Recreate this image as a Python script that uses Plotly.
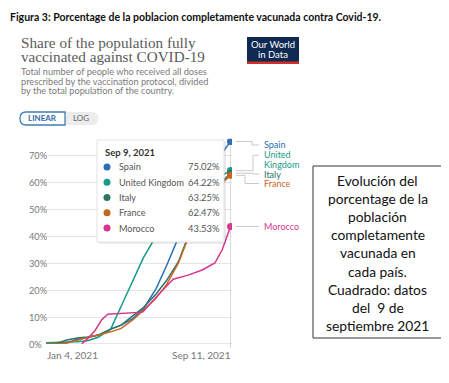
import plotly.graph_objects as go

# page body has an 8px default margin, so the figure is 8px smaller
OFF = 8
W, H = 449 - OFF, 383 - OFF

# ---------------- data ----------------
countries = ["Spain", "United Kingdom", "Italy", "France", "Morocco"]
colors = ["#2a70b3", "#17998b", "#2e7565", "#c8661f", "#d9358f"]

eu_dates = ["2021-01-04", "2021-01-18", "2021-02-01", "2021-02-15", "2021-03-01",
            "2021-03-15", "2021-04-01", "2021-04-15", "2021-05-01", "2021-05-15",
            "2021-06-01", "2021-06-15", "2021-07-01", "2021-07-15", "2021-08-01",
            "2021-08-15", "2021-09-01", "2021-09-09"]
spain = [0.0, 0.1, 0.5, 1.8, 2.4, 3.3, 5.5, 7.0, 9.5, 13.0, 20.5, 29.0, 39.5, 49.0,
         58.0, 65.0, 72.0, 75.02]
uk = [0.5, 0.7, 0.75, 0.8, 1.2, 2.5, 5.5, 14.0, 23.5, 32.0, 40.0, 46.0, 50.0, 53.5,
      57.0, 60.0, 63.0, 64.22]
italy = [0.0, 0.2, 1.5, 2.2, 2.6, 3.2, 5.5, 7.0, 10.5, 13.5, 18.5, 23.5, 30.5, 40.5,
         51.0, 56.0, 61.0, 63.25]
france = [0.0, 0.0, 0.4, 1.5, 2.4, 3.3, 4.5, 5.8, 9.0, 12.5, 17.0, 22.0, 30.0, 40.0,
          48.5, 55.0, 60.5, 62.47]
morocco_dates = ["2021-02-21", "2021-03-01", "2021-03-11", "2021-03-20", "2021-03-28",
                 "2021-04-24", "2021-05-14", "2021-06-03", "2021-06-24", "2021-07-14",
                 "2021-08-02", "2021-08-19", "2021-08-29", "2021-09-09"]
morocco = [0.0, 2.0, 5.0, 9.0, 11.0, 11.3, 11.8, 18.0, 24.0, 25.5, 27.4, 30.0, 35.0, 43.53]

series_x = [eu_dates, eu_dates, eu_dates, eu_dates, morocco_dates]
series_y = [spain, uk, italy, france, morocco]

y_ticks = [0, 10, 20, 30, 40, 50, 60, 70]
x_tick_labels = ["Jan 4, 2021", "Sep 11, 2021"]
x_range = ["2021-01-04", "2021-09-11"]
tooltip_date = "Sep 9, 2021"

end_labels = [["Spain"], ["United", "Kingdom"], ["Italy"], ["France"], ["Morocco"]]


# ---------------- helpers (window pixel -> paper) ----------------
def px(x):
    return (x - OFF) / W


def py(y):
    return 1 - (y - OFF) / H


fig = go.Figure()

for name, xs, ys, c in zip(countries, series_x, series_y, colors):
    fig.add_trace(go.Scatter(x=xs, y=ys, mode="lines", name=name,
                             line=dict(color=c, width=1.5), hoverinfo="skip"))
for name, xs, ys, c in zip(countries, series_x, series_y, colors):
    fig.add_trace(go.Scatter(x=[xs[-1]], y=[ys[-1]], mode="markers", name=name,
                             marker=dict(color=c, size=7), hoverinfo="skip"))

plot_left, plot_right, plot_bottom = 46, 232, 344
ymax = 76
plot_top = plot_bottom - ymax * 2.7

fig.update_layout(
    width=W, height=H, margin=dict(l=0, r=0, t=0, b=0),
    paper_bgcolor="white", plot_bgcolor="white", showlegend=False,
    xaxis=dict(domain=[px(plot_left), px(plot_right)], range=x_range, type="date",
               showgrid=False, showticklabels=False, zeroline=False, showline=False),
    yaxis=dict(domain=[py(plot_bottom), py(plot_top)], range=[0, ymax],
               tickvals=y_ticks, showticklabels=False, gridcolor="#e3e3e3",
               gridwidth=1, zeroline=False, showline=False),
    font=dict(family="Lato", color="#666"),
)

shapes = []
ann = []


def text(x, y, t, size, color, family="Lato", xanchor="left"):
    ann.append(dict(x=px(x), y=py(y), xref="paper", yref="paper", text=t,
                    showarrow=False, xanchor=xanchor, yanchor="middle",
                    font=dict(family=family, size=size, color=color)))


# hover vertical line
shapes.append(dict(type="line", xref="x", yref="paper", x0=eu_dates[-1], x1=eu_dates[-1],
                   y0=py(plot_bottom + 4), y1=py(plot_top), line=dict(color="#d8d8d8", width=1),
                   layer="below"))
# bottom axis line
shapes.append(dict(type="line", xref="paper", yref="y", x0=px(plot_left), x1=px(plot_right),
                   y0=0, y1=0, line=dict(color="#cfcfcf", width=1), layer="below"))

# y tick labels
for v in y_ticks:
    ann.append(dict(x=px(27), xref="paper", y=v, yref="y", text=f"{v}%", showarrow=False,
                    xanchor="left", yanchor="middle", font=dict(size=9.2, color="#777")))
# x tick labels
text(45, 355, x_tick_labels[0], 10, "#777")
text(233, 355, x_tick_labels[1], 10, "#777", xanchor="right")

# top caption
text(8, 17, "<b>Figura 3: Porcentage de la poblacion completamente vacunada contra Covid-19.</b>",
     10.5, "#111", family="Liberation Sans Narrow, Lato")

# OWID title / subtitle (one annotation per line for tight spacing)
text(19, 42.5, "Share of the population fully", 15.2, "#5b5b5b", family="Liberation Serif")
text(19, 56.5, "vaccinated against COVID-19", 15.2, "#5b5b5b", family="Liberation Serif")
for k, t in enumerate(["Total number of people who received all doses",
                       "prescribed by the vaccination protocol, divided",
                       "by the total population of the country."]):
    text(19, 72 + k * 9.0, t, 9.2, "#7a7a7a")

# OWID logo
shapes.append(dict(type="rect", xref="paper", yref="paper", x0=px(247), x1=px(299),
                   y0=py(64), y1=py(37), fillcolor="#0e2a52", line=dict(width=0)))
shapes.append(dict(type="rect", xref="paper", yref="paper", x0=px(247), x1=px(299),
                   y0=py(64), y1=py(61.5), fillcolor="#d0312b", line=dict(width=0)))
text(273, 44.5, "Our World", 9.5, "white", xanchor="center")
text(273, 54.5, "in Data", 9.5, "white", xanchor="center")

# LINEAR / LOG toggle
shapes.append(dict(type="path", xref="paper", yref="paper",
                   path=f"M {px(60)} {py(112)} L {px(92)} {py(112)} Q {px(98)} {py(112)} {px(98)} {py(118.5)} Q {px(98)} {py(125)} {px(92)} {py(125)} L {px(60)} {py(125)} Z",
                   fillcolor="#ececec", line=dict(width=0)))
shapes.append(dict(type="path", xref="paper", yref="paper",
                   path=f"M {px(26)} {py(112)} L {px(65)} {py(112)} L {px(65)} {py(125)} L {px(26)} {py(125)} Q {px(20)} {py(125)} {px(20)} {py(118.5)} Q {px(20)} {py(112)} {px(26)} {py(112)} Z",
                   fillcolor="white", line=dict(color="#3f7fb5", width=1.3)))
text(42.5, 118.5, "<b>LINEAR</b>", 8, "#2f6ea8", xanchor="center")
text(80.5, 118.5, "LOG", 8, "#666", xanchor="center")

# end labels with connectors
label_y = [145, [154.5, 164.3], 174, 183.5, 226.5]
dot_y = [plot_bottom - v[-1] * 2.7 for v in series_y]
conn_x = [252, 253, 253, 245, 245]
for i, (name, c) in enumerate(zip(countries, colors)):
    ly = label_y[i]
    if isinstance(ly, list):
        target = (ly[0] + ly[1]) / 2 - 4
        ys_lbl = ly
    else:
        target = ly
        ys_lbl = [ly]
    cx = conn_x[i]
    shapes.append(dict(type="path", xref="paper", yref="paper",
                       path=f"M {px(236)} {py(dot_y[i])} L {px(cx)} {py(dot_y[i])} L {px(cx)} {py(target)} L {px(259)} {py(target)}",
                       line=dict(color="#bbbbbb", width=0.8)))
    for t, yy in zip(end_labels[i], ys_lbl):
        text(262, yy, t, 9, c)

# tooltip
shapes.append(dict(type="rect", xref="paper", yref="paper", x0=px(99), x1=px(226),
                   y0=py(244), y1=py(142), fillcolor="rgba(0,0,0,0.08)", line=dict(width=0),
                   layer="above"))
shapes.append(dict(type="rect", xref="paper", yref="paper", x0=px(97), x1=px(224),
                   y0=py(242), y1=py(140), fillcolor="white", line=dict(color="#e2e2e2", width=1),
                   layer="above"))
text(103, 152.5, f"<b>{tooltip_date}</b>", 9.5, "#333")
row_y = [167, 182.2, 197.4, 212.8, 228]
for i, (name, c) in enumerate(zip(countries, colors)):
    ry = row_y[i]
    shapes.append(dict(type="circle", xref="paper", yref="paper", x0=px(103.5), x1=px(110.5),
                       y0=py(ry + 3.5), y1=py(ry - 3.5), fillcolor=c, line=dict(width=0),
                       layer="above"))
    text(116.5, ry, name, 9.1, "#555")
    text(222, ry, f"{series_y[i][-1]:.2f}%", 9.4, "#555", xanchor="right")

# side note box
shapes.append(dict(type="rect", xref="paper", yref="paper", x0=px(313), x1=px(442),
                   y0=py(338), y1=py(166), fillcolor="white", line=dict(color="#333", width=1)))
note_lines = ["Evolución del", "porcentage de la", "población", "completamente",
              "vacunada en", "cada país.", "Cuadrado: datos", "del  9 de", "septiembre 2021"]
for k, t in enumerate(note_lines):
    text(377.5, 180.5 + k * 18.1, t, 13.8, "#111", xanchor="center")

fig.update_layout(shapes=shapes, annotations=ann)
fig.write_html("out.html")
